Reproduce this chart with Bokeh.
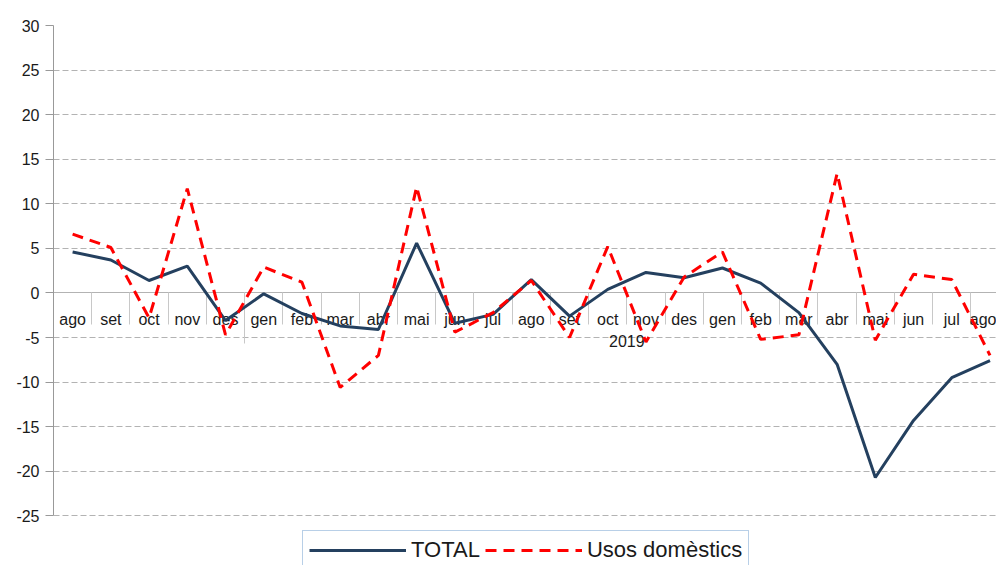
from bokeh.plotting import figure
from bokeh.models import (Range1d, LinearAxis, FixedTicker, Legend, LegendItem,
                          ColumnDataSource)
from bokeh.embed import file_html
from bokeh.resources import INLINE

months = ["ago", "set", "oct", "nov", "des", "gen", "feb", "mar", "abr", "mai", "jun", "jul",
          "ago", "set", "oct", "nov", "des", "gen", "feb", "mar", "abr", "mai", "jun", "jul", "ago"]
year_label = "2019"
year_start = 5  # first month of 2019 group ("gen")
total = [4.6, 3.7, 1.4, 3.0, -3.1, -0.1, -2.3, -3.7, -4.1, 5.6, -3.4, -2.4,
         1.5, -2.6, 0.4, 2.3, 1.7, 2.8, 1.1, -2.2, -8.0, -20.7, -14.3, -9.5, -7.6]
usos = [6.6, 5.1, -2.8, 11.7, -4.7, 2.9, 1.2, -10.6, -7.0, 11.9, -4.4, -2.2,
        1.4, -5.0, 5.2, -5.5, 1.8, 4.6, -5.2, -4.7, 13.4, -5.3, 2.1, 1.5, -7.0]
y_ticks = [-25, -20, -15, -10, -5, 0, 5, 10, 15, 20, 25, 30]

FONT = "Liberation Sans"
GRID = "#b3b3b3"
TXT = "#1a1a1a"

x = list(range(len(months)))
src = ColumnDataSource(dict(x=x, total=total, usos=usos))

p = figure(width=996, height=565, output_backend="svg", toolbar_location=None,
           x_range=Range1d(-0.5, 24.17), y_range=Range1d(-30.57, 30),
           x_axis_location=None, min_border_left=53, min_border_right=0,
           min_border_top=25, min_border_bottom=0)
p.outline_line_color = None
p.xgrid.visible = False
p.ygrid.ticker = FixedTicker(ticks=y_ticks)
p.ygrid.grid_line_color = GRID
p.ygrid.grid_line_dash = "6 3"
p.ygrid.grid_line_width = 1

ya = p.yaxis[0]
ya.ticker = FixedTicker(ticks=y_ticks)
ya.major_label_overrides = {t: str(t) for t in y_ticks}
ya.bounds = (-25, 30)
ya.axis_line_color = "#999999"
ya.major_tick_line_color = "#999999"
ya.major_tick_out = 8
ya.major_tick_in = 0
ya.minor_tick_line_color = None
ya.major_label_standoff = 6
ya.major_label_text_font = FONT
ya.major_label_text_font_size = "16px"
ya.major_label_text_color = TXT

n = len(months)
# boundary separators along the category axis at y=0
sep = LinearAxis(fixed_location=0, ticker=FixedTicker(ticks=[i + 0.5 for i in range(-1, n)]))
sep.axis_line_color = GRID
sep.major_tick_line_color = "#c8c8c8"
sep.major_tick_out = 32
sep.major_tick_in = 0
sep.minor_tick_line_color = None
sep.major_label_text_color = None
p.add_layout(sep, "below")

# long separator between year groups
ysep = LinearAxis(fixed_location=0, ticker=FixedTicker(ticks=[year_start - 0.5]))
ysep.axis_line_color = None
ysep.major_tick_line_color = "#c8c8c8"
ysep.major_tick_out = 51
ysep.major_tick_in = 0
ysep.minor_tick_line_color = None
ysep.major_label_text_color = None
p.add_layout(ysep, "below")

# month labels
lab = LinearAxis(fixed_location=0, ticker=FixedTicker(ticks=x),
                 major_label_overrides={i: m for i, m in enumerate(months)})
lab.axis_line_color = None
lab.major_tick_line_color = None
lab.minor_tick_line_color = None
lab.major_tick_out = 0
lab.major_label_standoff = 18
lab.major_label_text_font = FONT
lab.major_label_text_font_size = "16px"
lab.major_label_text_color = TXT
p.add_layout(lab, "below")

# year label centred on its group
yc = (year_start - 0.5 + n - 0.5) / 2
yl = LinearAxis(fixed_location=0, ticker=FixedTicker(ticks=[yc]),
                major_label_overrides={yc: year_label})
yl.axis_line_color = None
yl.major_tick_line_color = None
yl.minor_tick_line_color = None
yl.major_tick_out = 0
yl.major_label_standoff = 42
yl.major_label_text_font = FONT
yl.major_label_text_font_size = "16px"
yl.major_label_text_color = TXT
p.add_layout(yl, "below")

r1 = p.line("x", "total", source=src, line_color="#24405f", line_width=3, level="annotation")
r2 = p.line("x", "usos", source=src, line_color="#ff0000", line_width=3,
            line_dash="11 7", level="annotation")

leg = Legend(items=[LegendItem(label="TOTAL", renderers=[r1]),
                    LegendItem(label="Usos domèstics", renderers=[r2])],
             orientation="horizontal", location=(249, -5))
leg.label_text_font = FONT
leg.label_text_font_size = "22px"
leg.label_text_color = TXT
leg.glyph_width = 97
leg.glyph_height = 22
leg.label_standoff = 5
leg.spacing = 5
leg.padding = 6
leg.margin = 0
leg.border_line_color = "#729fcf"
leg.border_line_width = 1
leg.background_fill_color = "white"
leg.background_fill_alpha = 1
p.add_layout(leg, "center")

open("out.html", "w").write(file_html(p, INLINE))
